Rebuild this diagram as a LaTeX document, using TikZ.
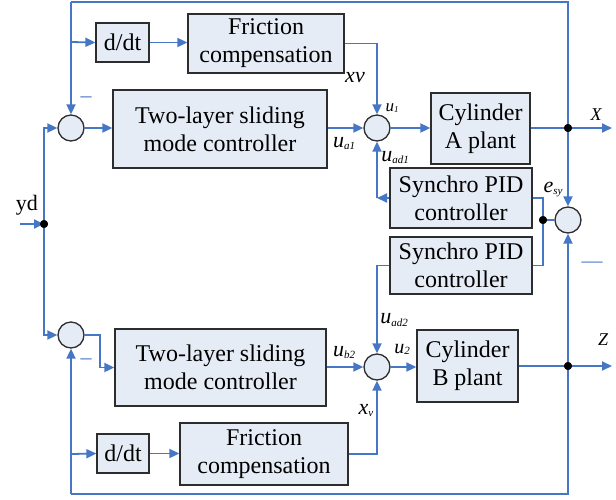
\documentclass[tikz,border=0pt]{standalone}
\usepackage{fontspec}
\setmainfont{Liberation Serif}
\usetikzlibrary{arrows.meta}
\definecolor{lblue}{RGB}{70,118,198}
\definecolor{bfill}{RGB}{230,236,246}
\definecolor{bdraw}{RGB}{45,45,45}
\begin{document}
\begin{tikzpicture}[x=1pt,y=-1pt,
  blk/.style={draw=bdraw,line width=1.3pt,fill=bfill,inner sep=0pt,align=center,font=\fontsize{24}{28}\selectfont},
  sumnode/.style={circle,draw=bdraw,line width=1.3pt,fill=bfill,minimum size=26pt,inner sep=0pt},
  sig/.style={draw=lblue,line width=1.8pt},
  arr/.style={sig,-{Triangle[length=10pt,width=9pt]}},
  jdot/.style={circle,fill=black,minimum size=8pt,inner sep=0pt},
  lab/.style={font=\fontsize{22}{22}\selectfont\itshape,inner sep=0pt},
  minus/.style={text=lblue,inner sep=0pt}
]
\useasboundingbox (0,0) rectangle (616,499);
% blocks
\node[blk,minimum width=53pt,minimum height=39pt] (dA) at (122.5,42.5) {d/dt};
\node[blk,minimum width=156pt,minimum height=59pt] (fA) at (266,43.5) {Friction\\compensation};
\node[sumnode] (s1) at (71,128) {};
\node[blk,minimum width=214pt,minimum height=78pt] (tA) at (220,129) {Two-layer sliding\\mode controller};
\node[sumnode] (s2) at (377,128) {};
\node[blk,minimum width=99pt,minimum height=71pt] (cA) at (480.5,128.5) {Cylinder\\A plant};
\node[blk,minimum width=142pt,minimum height=60pt] (p1) at (461,198) {Synchro PID\\controller};
\node[sumnode] (s3) at (568,220) {};
\node[blk,minimum width=142pt,minimum height=57pt] (p2) at (461,265.5) {Synchro PID\\controller};
\node[sumnode] (s4) at (377,367) {};
\node[blk,minimum width=101pt,minimum height=72pt] (cB) at (467.5,366) {Cylinder\\B plant};
\node[blk,minimum width=211pt,minimum height=77pt] (tB) at (220.5,367.5) {Two-layer sliding\\mode controller};
\node[sumnode] (s5) at (71,335) {};
\node[blk,minimum width=52pt,minimum height=39pt] (dB) at (123,453.5) {d/dt};
\node[blk,minimum width=168pt,minimum height=62pt] (fB) at (264,454) {Friction\\compensation};
% junctions and free ends
\coordinate (ydin) at (20,224);
\node[jdot] (jyd) at (44,224) {};
\node[jdot] (jX) at (568,128) {};
\node[jdot] (jZ) at (568,366) {};
\node[jdot] (je) at (543,220) {};
\coordinate (Xout) at (612,128);
\coordinate (Zout) at (612,366);
\coordinate (topR) at (568,2);
\coordinate (topL) at (71,2);
\coordinate (brA) at (71,42);
\coordinate (botR) at (568,494);
\coordinate (botL) at (71,494);
\coordinate (brB) at (71,454);
\coordinate (c1) at (377,198);
\coordinate (bend5) at (100,335);
% connectors
\draw[arr] (ydin) -- (jyd.center);
\draw[arr] (jyd.center) |- (s1.west);
\draw[arr] (jyd.center) |- (s5.west);
\draw[arr] (s1.east) -- (tA.west |- s1.east);
\draw[arr] (tA.east |- s2.west) -- (s2.west);
\draw[arr] (fA.east) -| (s2.north);
\draw[arr] (s2.east) -- (cA.west |- s2.east);
\draw[arr] (cA.east |- jX) -- (Xout);
\draw[sig] (jX.center) -- (topR) -- (topL);
\draw[arr] (topL) -- (s1.north);
\draw[arr] (brA) -- (dA.west);
\draw[arr] (dA.east) -- (fA.west |- dA.east);
\draw[arr] (jX.center) -- (s3.north);
\draw[arr] (p1.west) -- (c1);
\draw[arr] (c1) -- (s2.south);
\draw[sig] (s3.west) -- (je.center);
\draw[sig] (je.center) |- (p1.east);
\draw[sig] (je.center) |- (p2.east);
\draw[arr] (p2.west) -| (s4.north);
\draw[arr] (tB.east |- s4.west) -- (s4.west);
\draw[arr] (s4.east) -- (cB.west |- s4.east);
\draw[arr] (cB.east |- jZ) -- (Zout);
\draw[arr] (jZ.center) -- (s3.south);
\draw[sig] (jZ.center) -- (botR) -- (botL);
\draw[arr] (botL) -- (s5.south);
\draw[arr] (brB) -- (dB.west);
\draw[arr] (dB.east) -- (fB.west |- dB.east);
\draw[arr] (fB.east) -| (s4.south);
\draw[arr] (s5.east) -- (bend5) |- (tB.west);
\node[jdot] at (jyd) {};
\node[jdot] at (jX) {};
\node[jdot] at (jZ) {};
\node[jdot] at (je) {};
% labels
\node[inner sep=0pt,font=\fontsize{22}{22}\selectfont] (lyd) at (27,205) {yd};
\node[lab] (lxv1) at (355,78) {xv};
\node[lab,font=\fontsize{17}{17}\selectfont\itshape] (lu1) at (392,108) {u\raisebox{-1pt}{\fontsize{9}{9}\selectfont 1}};
\node[lab] (lua1) at (344,144) {u\raisebox{-2pt}{\fontsize{11}{11}\selectfont a1}};
\node[lab] (luad1) at (395,158) {u\raisebox{-2pt}{\fontsize{11}{11}\selectfont ad1}};
\node[lab] (lesy) at (553,189) {e\raisebox{-2pt}{\fontsize{11}{11}\selectfont sy}};
\node[lab,font=\fontsize{18}{18}\selectfont\itshape] (lX) at (596,115) {X};
\node[lab,font=\fontsize{18}{18}\selectfont\itshape] (lZ) at (603,340) {Z};
\node[lab] (luad2) at (394,320) {u\raisebox{-2pt}{\fontsize{11}{11}\selectfont ad2}};
\node[lab] (lub2) at (344,352) {u\raisebox{-2pt}{\fontsize{11}{11}\selectfont b2}};
\node[lab,font=\fontsize{20}{20}\selectfont\itshape] (lu2) at (402,349) {u\raisebox{-1pt}{\fontsize{11}{11}\selectfont 2}};
\node[lab] (lxv2) at (366,410) {x\raisebox{-2pt}{\fontsize{11}{11}\selectfont v}};
\node[minus,font=\fontsize{22}{22}\selectfont] (m1) at (86,100) {–};
\node[minus,font=\fontsize{22}{22}\selectfont] (m2) at (86,362) {–};
\node[minus,font=\fontsize{21}{21}\selectfont] (m3) at (592,265) {—};
\end{tikzpicture}
\end{document}
